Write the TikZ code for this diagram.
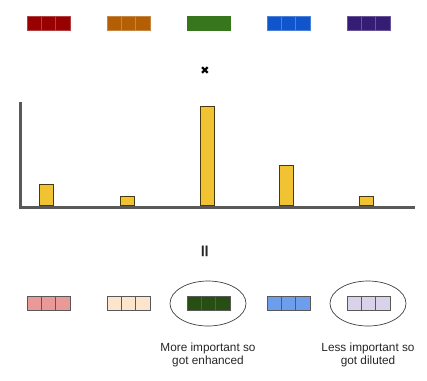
\documentclass[tikz,border=0pt]{standalone}
\usepackage{fontspec}
\setmainfont{Liberation Sans}
\newfontfamily\symfont{DejaVu Sans}
\usetikzlibrary{shapes.geometric}
\definecolor{cA}{HTML}{990000}
\definecolor{cB}{HTML}{B45F06}
\definecolor{cC}{HTML}{38761D}
\definecolor{cD}{HTML}{1155CC}
\definecolor{cE}{HTML}{351C75}
\definecolor{lA}{HTML}{EA9999}
\definecolor{lB}{HTML}{FCE5CD}
\definecolor{lC}{HTML}{274E13}
\definecolor{lD}{HTML}{6D9EEB}
\definecolor{lE}{HTML}{D9D2E9}
\definecolor{barc}{HTML}{F1C232}
\definecolor{axisc}{HTML}{595959}
\tikzset{
  cell/.style={draw=#1!75!white, line width=0.6pt, minimum width=14.33pt, minimum height=14pt, inner sep=0pt, outer sep=0pt},
  lcell/.style={draw=black!65, line width=0.6pt, minimum width=14.33pt, minimum height=14pt, inner sep=0pt, outer sep=0pt},
  bar/.style={draw=black!70!barc, fill=barc, line width=0.6pt},
  axis/.style={draw=axisc, line width=3pt},
  oval/.style={ellipse, draw=black!75, line width=0.7pt, minimum width=76pt, minimum height=45pt, inner sep=0pt},
  note/.style={align=center, font=\fontsize{11.8}{12.5}\selectfont, text=black!85}
}
\begin{document}
\begin{tikzpicture}[x=1pt,y=-1pt]
\useasboundingbox (0,0) rectangle (427,380);
% top boxes
\foreach \n/\xx/\c/\d in {ta/27/cA/cA!75!white, tb/107/cB/cB!75!white, tc/187/cC/cC, td/267/cD/cD!75!white, te/347/cE/cE!75!white} {
  \foreach \k in {0,1,2} {
    \node[cell=\c, draw=\d, fill=\c] (\n\k) at ({\xx+7.17+14.33*\k},23.5) {};
  }
}
% times sign
\node[font=\symfont\fontsize{11}{11}\selectfont] (times) at (205,70.5) {✖};
% axes
\coordinate (ytop) at (20.5,102);
\coordinate (orig) at (20.5,207);
\coordinate (xend) at (415,207);
\draw[axis, line join=miter] (ytop) -- (orig) -- (xend);
% bars
\foreach \n/\xx/\t in {b1/39/184, b2/120/196, b3/200/106, b4/279/165, b5/359/196} {
  \draw[bar] (\xx,\t) rectangle ({\xx+14},205.5);
  \coordinate (\n) at (\xx,\t);
}
% equals sign rotated
\node[rotate=90, font=\symfont\bfseries\fontsize{17}{17}\selectfont, text=black!85] (eq) at (206,251.5) {=};
% bottom boxes
\foreach \n/\xx/\c in {ba/27/lA, bb/107/lB, bc/187/lC, bd/267/lD, be/347/lE} {
  \foreach \k in {0,1,2} {
    \node[lcell=\c, fill=\c] (\n\k) at ({\xx+7.17+14.33*\k},303.7) {};
  }
}
\node[oval] (o1) at (208,303.5) {};
\node[oval] (o2) at (368,303.5) {};
\node[note] (t1) at (208,355) {More important so\\got enhanced};
\node[note] (t2) at (368,355) {Less important so\\got diluted};
\end{tikzpicture}
\end{document}
